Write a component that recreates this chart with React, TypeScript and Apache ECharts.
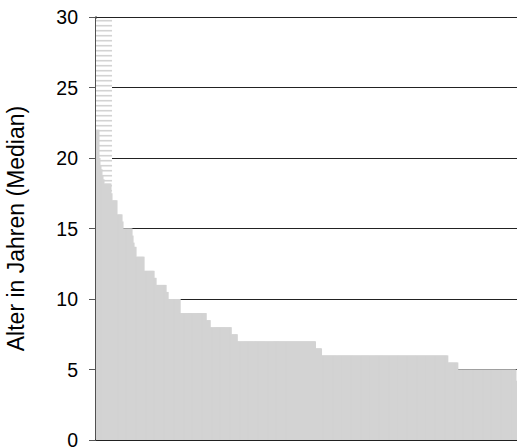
import React, { useEffect, useRef } from "react";
import * as echarts from "echarts";

// Run-length description of the sorted bars: each value repeats runCounts[i] times
const runValues = [22, 20, 19.5, 19.2, 18.8, 18.5, 18.2, 17.5, 17, 16, 15.5, 15, 14.5, 14, 13.7, 13, 12, 11.5, 11, 10.5, 10, 9, 8.5, 8, 7.5, 7, 6.5, 6, 5.5, 5, 4.2];
const runCounts = [3, 1, 1, 1, 1, 1, 7, 1, 5, 5, 1, 9, 1, 1, 2, 8, 10, 2, 10, 2, 12, 26, 4, 21, 6, 78, 6, 126, 10, 58, 1];
const yMin = 0;
const yMax = 30;
const yStep = 5;
const yAxisTitle = "Alter in Jahren (Median)";
// striped block: first category index, last category index, lower value, upper value
const stripedBlock = [0, 15, 17.2, 29.9];

const values: number[] = [];
runValues.forEach((v, i) => {
  for (let k = 0; k < runCounts[i]; k++) values.push(v);
});
const categories = values.map((_, i) => String(i + 1));

export default function App() {
  const ref = useRef<HTMLDivElement>(null);
  useEffect(() => {
    if (!ref.current) return;
    const chart = echarts.init(ref.current, undefined, { renderer: "svg" });
    const font = "'Liberation Sans', Arial, sans-serif";
    chart.setOption({
      animation: false,
      backgroundColor: "#ffffff",
      grid: { left: 96, right: 0, top: 17, bottom: 8, containLabel: false, outerBoundsMode: "none" },
      xAxis: {
        type: "category",
        data: categories,
        boundaryGap: true,
        axisLine: { show: true, lineStyle: { color: "#222", width: 1.5 } },
        axisTick: { show: false },
        axisLabel: { show: false },
        splitLine: { show: false },
      },
      yAxis: {
        type: "value",
        min: yMin,
        max: yMax,
        interval: yStep,
        name: yAxisTitle,
        nameLocation: "middle",
        nameGap: 69,
        nameTextStyle: { fontFamily: font, fontSize: 23, color: "#000" },
        axisLine: { show: true, lineStyle: { color: "#333", width: 1.7 } },
        axisTick: { show: true, length: 7, lineStyle: { color: "#555", width: 1 } },
        axisLabel: { fontFamily: font, fontSize: 19.5, lineHeight: 15, color: "#000", margin: 18 },
        splitLine: { show: true, lineStyle: { color: "#222", width: 1 } },
      },
      series: [
        {
          type: "custom",
          z: 1,
          silent: true,
          encode: { x: [0, 1], y: [2, 3] },
          data: [stripedBlock],
          renderItem: (params: any, api: any) => {
            const pTop = api.coord([api.value(0), api.value(3)]);
            const pBot = api.coord([api.value(1), api.value(2)]);
            const band = api.size([1, 0])[0];
            const x0 = pTop[0] - band / 2;
            const x1 = pBot[0] + band / 2;
            const top = pTop[1];
            const bottom = pBot[1];
            const children: any[] = [
              { type: "rect", shape: { x: x0, y: top, width: x1 - x0, height: bottom - top }, style: { fill: "#ffffff" } },
            ];
            for (let y = top + 1.5; y < bottom; y += 5) {
              children.push({ type: "rect", shape: { x: x0, y, width: x1 - x0, height: 1.6 }, style: { fill: "#d3d3d3" } });
            }
            return { type: "group", children };
          },
        },
        {
          type: "bar",
          z: 2,
          data: values,
          barWidth: 2,
          barGap: "-100%",
          itemStyle: { color: "#d3d3d3", borderWidth: 0 },
        },
      ],
    });
    return () => chart.dispose();
  }, []);
  return <div ref={ref} style={{ position: "fixed", left: 0, top: 0, width: 517, height: 448 }} />;
}
